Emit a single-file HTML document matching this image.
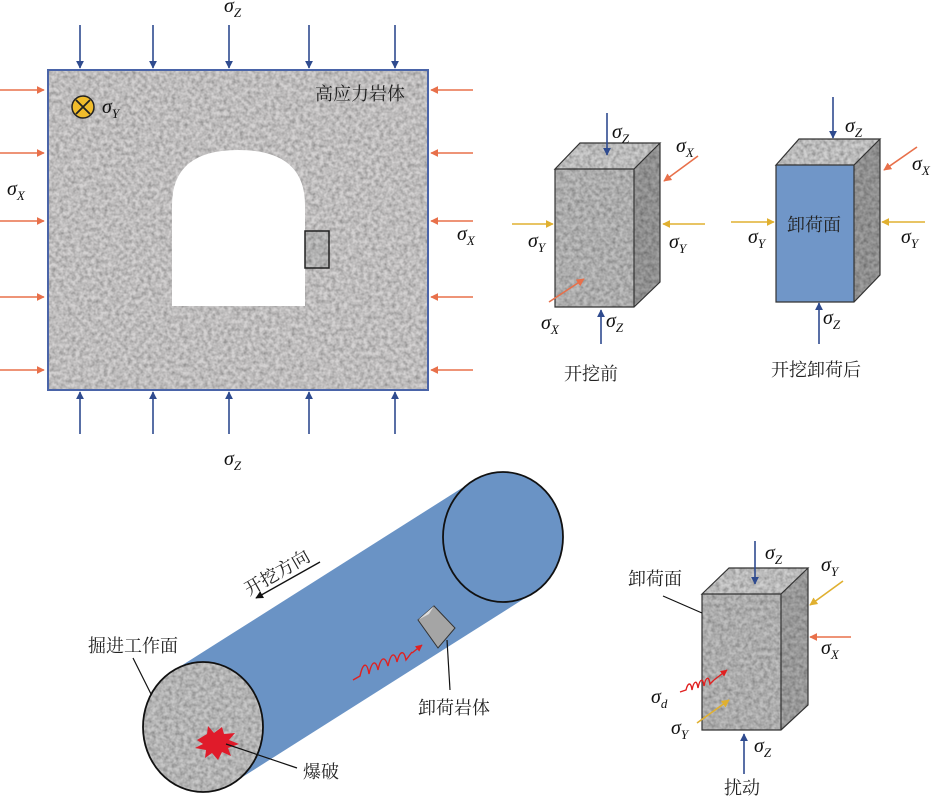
<!DOCTYPE html>
<html><head><meta charset="utf-8"><style>
html,body{margin:0;padding:0;background:#fff;}
svg{display:block;font-family:"Liberation Serif","Noto Serif CJK SC",serif;}
.cn{font-family:"Liberation Serif","Noto Serif CJK SC","Noto Sans CJK SC",serif;font-size:18px;fill:#222;}
.s{font-family:"Liberation Serif",serif;font-style:italic;font-size:20px;fill:#111;}
.sub{font-size:13px;}
</style></head><body>
<svg width="931" height="800" viewBox="0 0 931 800" xmlns="http://www.w3.org/2000/svg">
<defs>
<filter id="rock" x="0" y="0" width="100%" height="100%">
<feTurbulence type="fractalNoise" baseFrequency="0.25" numOctaves="2" seed="3"/>
<feColorMatrix type="matrix" values="0 0 0 0 0.45  0 0 0 0 0.45  0 0 0 0 0.45  0 0 0 -1.6 1.2"/>
<feComposite in2="SourceGraphic" operator="in"/>
<feBlend in2="SourceGraphic" mode="multiply"/>
</filter>
<marker id="ab" viewBox="0 0 10 10" refX="9" refY="5" markerWidth="5" markerHeight="6" orient="auto"><path d="M0,0L10,5L0,10z" fill="#2f4b8f"/></marker>
<marker id="ao" viewBox="0 0 10 10" refX="9" refY="5" markerWidth="5" markerHeight="6" orient="auto"><path d="M0,0L10,5L0,10z" fill="#e8704a"/></marker>
<marker id="ay" viewBox="0 0 10 10" refX="9" refY="5" markerWidth="5" markerHeight="6" orient="auto"><path d="M0,0L10,5L0,10z" fill="#e0b030"/></marker>
<marker id="ar" viewBox="0 0 10 10" refX="9" refY="5" markerWidth="5" markerHeight="6" orient="auto"><path d="M0,0L10,5L0,10z" fill="#e02020"/></marker>
<marker id="ak" viewBox="0 0 10 10" refX="9" refY="5" markerWidth="6" markerHeight="6" orient="auto"><path d="M0,0L10,5L0,10z" fill="#111"/></marker>
</defs>

<rect x="48" y="70" width="380" height="320" fill="#d4d2d2" filter="url(#rock)"/>
<rect x="48" y="70" width="380" height="320" fill="none" stroke="#4a64a8" stroke-width="2"/>
<path d="M172,306 V205 Q172,150 238,150 Q305,150 305,205 V306 Z" fill="#fff"/>
<rect x="305" y="231" width="24" height="37" fill="#c4c4c4" filter="url(#rock)"/>
<rect x="305" y="231" width="24" height="37" fill="none" stroke="#222" stroke-width="1.5"/>
<text class="cn" x="315" y="100">高应力岩体</text>
<circle cx="83" cy="107" r="11" fill="#f0bc2c" stroke="#222" stroke-width="1.5"/>
<path d="M76,100L90,114M90,100L76,114" stroke="#222" stroke-width="1.8"/>
<text class="s" x="102" y="113">σ<tspan class="sub" dy="5">Y</tspan></text>
<g stroke="#2f4b8f" stroke-width="1.6" marker-end="url(#ab)">
<line x1="80" y1="25" x2="80" y2="68"/><line x1="153" y1="25" x2="153" y2="68"/><line x1="229" y1="25" x2="229" y2="68"/><line x1="309" y1="25" x2="309" y2="68"/><line x1="395" y1="25" x2="395" y2="68"/>
<line x1="80" y1="434" x2="80" y2="392"/><line x1="153" y1="434" x2="153" y2="392"/><line x1="229" y1="434" x2="229" y2="392"/><line x1="309" y1="434" x2="309" y2="392"/><line x1="395" y1="434" x2="395" y2="392"/>
</g>
<g stroke="#e8704a" stroke-width="1.6" marker-end="url(#ao)">
<line x1="0" y1="90" x2="44" y2="90"/><line x1="0" y1="153" x2="44" y2="153"/><line x1="0" y1="221" x2="44" y2="221"/><line x1="0" y1="297" x2="44" y2="297"/><line x1="0" y1="370" x2="44" y2="370"/>
<line x1="473" y1="90" x2="431" y2="90"/><line x1="473" y1="153" x2="431" y2="153"/><line x1="473" y1="221" x2="431" y2="221"/><line x1="473" y1="297" x2="431" y2="297"/><line x1="473" y1="370" x2="431" y2="370"/>
</g>
<text class="s" x="224" y="12">σ<tspan class="sub" dy="5">Z</tspan></text>
<text class="s" x="224" y="465">σ<tspan class="sub" dy="5">Z</tspan></text>
<text class="s" x="7" y="195">σ<tspan class="sub" dy="5">X</tspan></text>
<text class="s" x="457" y="240">σ<tspan class="sub" dy="5">X</tspan></text>

<g>
<polygon points="555,169 580,143 660,143 634,169" fill="#d0d0d0" filter="url(#rock)"/>
<polygon points="634,169 660,143 660,282 634,307" fill="#a0a0a0" filter="url(#rock)"/>
<rect x="555" y="169" width="79" height="138" fill="#c0c0c0" filter="url(#rock)"/>
<path d="M555,169L580,143H660L634,169ZM634,169V307M660,143V282L634,307H555V169" fill="none" stroke="#333" stroke-width="1.2"/>
</g>
<line x1="607" y1="113" x2="607" y2="155" stroke="#2f4b8f" stroke-width="1.6" marker-end="url(#ab)"/>
<line x1="601" y1="344" x2="601" y2="310" stroke="#2f4b8f" stroke-width="1.6" marker-end="url(#ab)"/>
<line x1="698" y1="156" x2="664" y2="181" stroke="#e8704a" stroke-width="1.6" marker-end="url(#ao)"/>
<line x1="549" y1="302" x2="584" y2="279" stroke="#e8704a" stroke-width="1.6" marker-end="url(#ao)"/>
<line x1="512" y1="224" x2="553" y2="224" stroke="#e0b030" stroke-width="1.6" marker-end="url(#ay)"/>
<line x1="705" y1="224" x2="663" y2="224" stroke="#e0b030" stroke-width="1.6" marker-end="url(#ay)"/>
<text class="s" x="612" y="138">σ<tspan class="sub" dy="5">Z</tspan></text>
<text class="s" x="676" y="152">σ<tspan class="sub" dy="5">X</tspan></text>
<text class="s" x="528" y="247">σ<tspan class="sub" dy="5">Y</tspan></text>
<text class="s" x="669" y="248">σ<tspan class="sub" dy="5">Y</tspan></text>
<text class="s" x="541" y="329">σ<tspan class="sub" dy="5">X</tspan></text>
<text class="s" x="606" y="327">σ<tspan class="sub" dy="5">Z</tspan></text>
<text class="cn" x="564" y="380">开挖前</text>

<g>
<polygon points="776,165 799,139 880,139 854,165" fill="#d0d0d0" filter="url(#rock)"/>
<polygon points="854,165 880,139 880,275 854,302" fill="#a0a0a0" filter="url(#rock)"/>
<rect x="776" y="165" width="78" height="137" fill="#7096c8"/>
<path d="M776,165L799,139H880L854,165ZM854,165V302M880,139V275L854,302H776V165" fill="none" stroke="#333" stroke-width="1.2"/>
</g>
<text class="cn" x="787" y="231">卸荷面</text>
<line x1="833" y1="97" x2="833" y2="138" stroke="#2f4b8f" stroke-width="1.6" marker-end="url(#ab)"/>
<line x1="819" y1="344" x2="819" y2="303" stroke="#2f4b8f" stroke-width="1.6" marker-end="url(#ab)"/>
<line x1="917" y1="147" x2="884" y2="170" stroke="#e8704a" stroke-width="1.6" marker-end="url(#ao)"/>
<line x1="731" y1="222" x2="774" y2="222" stroke="#e0b030" stroke-width="1.6" marker-end="url(#ay)"/>
<line x1="925" y1="222" x2="882" y2="222" stroke="#e0b030" stroke-width="1.6" marker-end="url(#ay)"/>
<text class="s" x="845" y="132">σ<tspan class="sub" dy="5">Z</tspan></text>
<text class="s" x="912" y="170">σ<tspan class="sub" dy="5">X</tspan></text>
<text class="s" x="748" y="243">σ<tspan class="sub" dy="5">Y</tspan></text>
<text class="s" x="901" y="243">σ<tspan class="sub" dy="5">Y</tspan></text>
<text class="s" x="823" y="324">σ<tspan class="sub" dy="5">Z</tspan></text>
<text class="cn" x="771" y="376">开挖卸荷后</text>

<polygon points="173,671 473,481 533,593 233,783" fill="#6a93c5"/>
<ellipse cx="503" cy="537" rx="60" ry="65" fill="#6a93c5" stroke="#111" stroke-width="1.8"/>
<ellipse cx="203" cy="727" rx="60" ry="65" fill="#c8c8c8" filter="url(#rock)"/>
<ellipse cx="203" cy="727" rx="60" ry="65" fill="none" stroke="#111" stroke-width="1.8"/>
<polygon points="197,740 207,734 208,726 214,733 222,727 224,734 235,733 229,740 239,744 228,748 231,756 222,752 218,760 212,753 205,758 206,750 195,748 203,744" fill="#e01b2a"/>
<line x1="320" y1="562" x2="256" y2="598" stroke="#111" stroke-width="1.3" marker-end="url(#ak)"/>
<text class="cn" transform="translate(249,596) rotate(-30)">开挖方向</text>
<g>
<polygon points="418,620 434,606 455,628 438,648" fill="#a5a5a5" stroke="#333" stroke-width="1"/>
<polygon points="418,620 434,606 429,614" fill="#ddd"/>
</g>
<path d="M353,680 L360,676 C363,662 367,662 369,674 C372,660 376,660 378,670 C381,656 385,656 388,666 C391,652 395,652 397,662 C400,650 404,650 406,660 L412,652" fill="none" stroke="#e02020" stroke-width="1.4"/>
<line x1="412" y1="653" x2="422" y2="645" stroke="#e02020" stroke-width="1.4" marker-end="url(#ar)"/>
<line x1="447" y1="640" x2="450" y2="690" stroke="#111" stroke-width="1.2"/>
<text class="cn" x="418" y="714">卸荷岩体</text>
<line x1="133" y1="658" x2="151" y2="694" stroke="#111" stroke-width="1.2"/>
<text class="cn" x="88" y="652">掘进工作面</text>
<line x1="226" y1="744" x2="297" y2="768" stroke="#111" stroke-width="1.2"/>
<text class="cn" x="303" y="778">爆破</text>

<g>
<polygon points="702,594 729,568 808,568 781,594" fill="#d0d0d0" filter="url(#rock)"/>
<polygon points="781,594 808,568 808,705 781,730" fill="#aaaaaa" filter="url(#rock)"/>
<rect x="702" y="594" width="79" height="136" fill="#c0c0c0" filter="url(#rock)"/>
<path d="M702,594L729,568H808L781,594ZM781,594V730M808,568V705L781,730H702V594" fill="none" stroke="#333" stroke-width="1.2"/>
</g>
<line x1="755" y1="541" x2="755" y2="584" stroke="#2f4b8f" stroke-width="1.6" marker-end="url(#ab)"/>
<line x1="744" y1="774" x2="744" y2="734" stroke="#2f4b8f" stroke-width="1.6" marker-end="url(#ab)"/>
<line x1="843" y1="581" x2="810" y2="605" stroke="#e0b030" stroke-width="1.6" marker-end="url(#ay)"/>
<line x1="851" y1="637" x2="810" y2="637" stroke="#e8704a" stroke-width="1.6" marker-end="url(#ao)"/>
<line x1="697" y1="723" x2="729" y2="700" stroke="#e0b030" stroke-width="1.6" marker-end="url(#ay)"/>
<path d="M680,692 L686,690 C688,682 691,682 692,690 C694,680 697,680 698,688 C700,678 703,678 704,686 C706,676 709,676 710,684 L714,680" fill="none" stroke="#e02020" stroke-width="1.4"/>
<line x1="714" y1="680" x2="727" y2="670" stroke="#e02020" stroke-width="1.4" marker-end="url(#ar)"/>
<line x1="663" y1="596" x2="702" y2="613" stroke="#111" stroke-width="1.2"/>
<text class="cn" x="628" y="585">卸荷面</text>
<text class="s" x="765" y="559">σ<tspan class="sub" dy="5">Z</tspan></text>
<text class="s" x="821" y="571">σ<tspan class="sub" dy="5">Y</tspan></text>
<text class="s" x="821" y="654">σ<tspan class="sub" dy="5">X</tspan></text>
<text class="s" x="651" y="703">σ<tspan class="sub" dy="5">d</tspan></text>
<text class="s" x="671" y="734">σ<tspan class="sub" dy="5">Y</tspan></text>
<text class="s" x="754" y="752">σ<tspan class="sub" dy="5">Z</tspan></text>
<text class="cn" x="724" y="794">扰动</text>
</svg>
</body></html>
